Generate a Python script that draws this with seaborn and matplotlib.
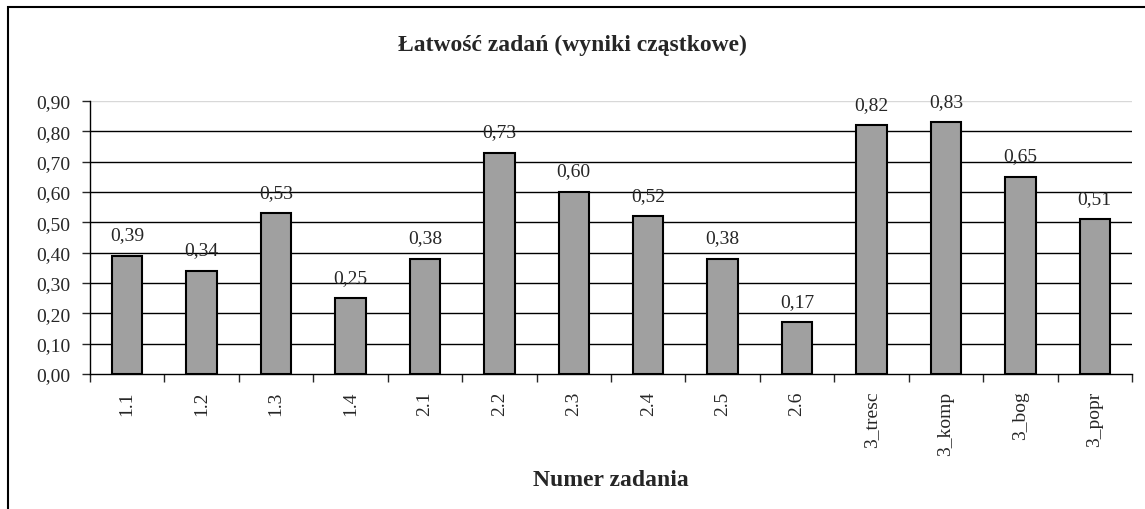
import numpy as np
import pandas as pd
import seaborn as sns
import matplotlib.pyplot as plt
from matplotlib.patches import Rectangle
from matplotlib.ticker import FuncFormatter, FixedLocator

# values
zadania = ['1.1', '1.2', '1.3', '1.4', '2.1', '2.2', '2.3', '2.4', '2.5', '2.6',
           '3_tresc', '3_komp', '3_bog', '3_popr']
latwosc = [0.39, 0.34, 0.53, 0.25, 0.38, 0.73, 0.60, 0.52, 0.38, 0.17,
           0.82, 0.83, 0.65, 0.51]

sns.set_style('white')
plt.rcParams['font.family'] = ['Liberation Serif', 'DejaVu Serif']

data = pd.DataFrame({'zadanie': zadania, 'latwosc': latwosc})

fig = plt.figure(figsize=(11.45, 5.10), dpi=100)
ax = fig.add_axes([90 / 1145, 1 - 375 / 510, (1132 - 90) / 1145, (375 - 102) / 510])

# gridlines first so bars sit on top
for v in np.arange(0.1, 0.85, 0.1):
    ax.axhline(v, color='black', lw=1.0, zorder=0)
ax.axhline(0.9, color='#d8d8d8', lw=1.0, zorder=0)

sns.barplot(data=data, x='zadanie', y='latwosc', color='#a0a0a0', saturation=1,
            edgecolor='black', linewidth=1.5, width=0.41, ax=ax, zorder=2)

for i, v in enumerate(latwosc):
    ax.annotate(f'{v:.2f}'.replace('.', ','), (i, v), xytext=(0, 9),
                textcoords='offset points', ha='center', va='bottom', fontsize=14)

ax.set_ylim(0, 0.9)
ax.set_xlim(-0.5, len(zadania) - 0.5)
ax.set_yticks(np.arange(0, 0.91, 0.1))
ax.yaxis.set_major_formatter(FuncFormatter(lambda v, p: f'{v:.2f}'.replace('.', ',')))
ax.tick_params(axis='y', direction='out', length=6, width=1, labelsize=14, left=True, pad=8)

# x ticks between categories, labels at centres
ax.xaxis.set_minor_locator(FixedLocator(np.arange(-0.5, len(zadania), 1.0)))
ax.tick_params(axis='x', which='minor', direction='out', length=6, width=1, bottom=True)
ax.tick_params(axis='x', which='major', length=0, labelsize=14, pad=12)
plt.setp(ax.get_xticklabels(), rotation=90)

for s in ['top', 'right']:
    ax.spines[s].set_visible(False)
for s in ['left', 'bottom']:
    ax.spines[s].set_color('black')
    ax.spines[s].set_linewidth(1.0)

ax.set_ylabel('')
ax.set_xlabel('')
fig.text(0.5, 1 - 45 / 510, 'Łatwość zadań (wyniki cząstkowe)', ha='center', va='center',
         fontsize=17, fontweight='bold')
# axis title sits under the plot area centre
fig.text(611 / 1145, 1 - 481 / 510, 'Numer zadania', ha='center', va='center',
         fontsize=17, fontweight='bold')

# frame around the chart area (cut at right and bottom like the original)
fig.patches.append(Rectangle((8 / 1145, -0.5), 1.5, 1.5 - 8 / 510,
                             transform=fig.transFigure, fill=False,
                             edgecolor='black', lw=1.5, figure=fig))

fig.savefig('out.png', dpi=100)
